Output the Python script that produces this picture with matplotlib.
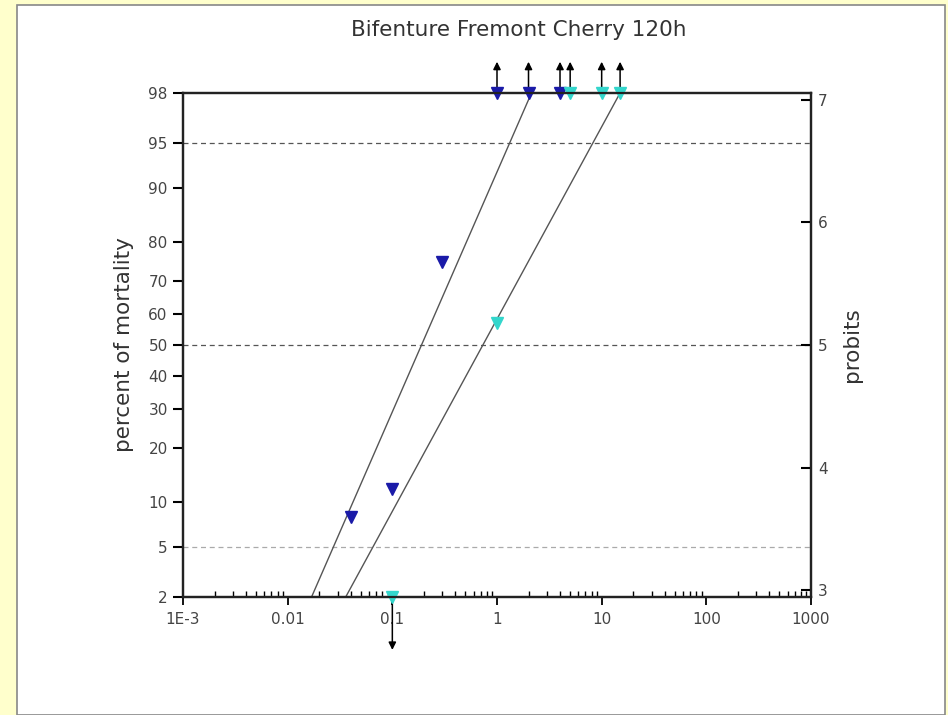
import matplotlib
matplotlib.use("Agg")
import matplotlib.pyplot as plt
from matplotlib.patches import Rectangle
import numpy as np
from statistics import NormalDist

plt.rcParams['font.family'] = ['DejaVu Sans']

# data
blue_dose = [0.04, 0.1, 0.3, 1, 2, 4]
blue_mort = [8, 12, 75, 100, 100, 100]
cyan_dose = [0.1, 1, 5, 10, 15]
cyan_mort = [0, 57, 100, 100, 100]

# fitted probit lines: LC50 and slope (probits per decade)
blue_lc50, blue_slope = 0.19, 1.955
cyan_lc50, cyan_slope = 0.733, 1.567

pct_ticks = [2, 5, 10, 20, 30, 40, 50, 60, 70, 80, 90, 95, 98]
probit_ticks = [3, 4, 5, 6, 7]
x_ticks = [1e-3, 0.01, 0.1, 1, 10, 100, 1000]
x_labels = ['1E-3', '0.01', '0.1', '1', '10', '100', '1000']
ref_lines = [95, 50, 5]

nd = NormalDist()


def probit(pct):
    return 5 + nd.inv_cdf(pct / 100.0)


y_lo, y_hi = probit(2), probit(98)

fig = plt.figure(figsize=(9.48, 7.15), dpi=100, facecolor='#FFFFCC')
fig.patches.append(Rectangle((17 / 948, 0), 928 / 948, 1 - 5 / 715,
                             transform=fig.transFigure, facecolor='white',
                             edgecolor='#888888', linewidth=1.2, zorder=-10))

ax = fig.add_axes([183 / 948, 1 - 597 / 715, 628 / 948, 504 / 715])
ax.set_facecolor('white')
ax.set_xscale('log')
ax.set_xlim(1e-3, 1000)
ax.set_ylim(y_lo, y_hi)

# reference lines
for p, c in zip(ref_lines, ['#555555', '#555555', '#aaaaaa']):
    ax.axhline(probit(p), color=c, lw=0.9, ls=(0, (4, 3)), zorder=1)

# fitted lines
for lc50, slope in [(blue_lc50, blue_slope), (cyan_lc50, cyan_slope)]:
    xs = lc50 * 10 ** ((np.array([y_lo, y_hi]) - 5) / slope)
    ax.plot(xs, [y_lo, y_hi], color='#555555', lw=1.0, zorder=2)

# points
for dose, mort, col in [(blue_dose, blue_mort, '#1a1aa8'),
                        (cyan_dose, cyan_mort, '#33d6cc')]:
    yv = [probit(min(max(m, 2), 98)) for m in mort]
    ax.plot(dose, yv, ls='none', marker='v', ms=8, color=col,
            clip_on=False, zorder=5)
    trans = ax.get_xaxis_transform()
    for d, m in zip(dose, mort):
        if m >= 100:
            ax.annotate('', xy=(d, 1.062), xytext=(d, 1.0), xycoords=trans,
                        textcoords=trans, annotation_clip=False,
                        arrowprops=dict(arrowstyle='-|>', color='black',
                                        lw=1.1, mutation_scale=11,
                                        shrinkA=0, shrinkB=0), zorder=4)
        elif m <= 0:
            ax.annotate('', xy=(d, -0.105), xytext=(d, 0.0), xycoords=trans,
                        textcoords=trans, annotation_clip=False,
                        arrowprops=dict(arrowstyle='-|>', color='black',
                                        lw=1.1, mutation_scale=11,
                                        shrinkA=0, shrinkB=0), zorder=4)

# axes styling
for s in ax.spines.values():
    s.set_linewidth(1.6)
    s.set_color('#222222')

ax.set_xticks(x_ticks)
ax.set_xticklabels(x_labels)
ax.xaxis.set_minor_locator(matplotlib.ticker.LogLocator(base=10, subs=np.arange(2, 10)))
ax.xaxis.set_minor_formatter(matplotlib.ticker.NullFormatter())
ax.tick_params(axis='x', which='major', direction='out', length=6, width=1.3,
               labelsize=11, labelcolor='#444444', pad=5)
ax.tick_params(axis='x', which='minor', direction='in', length=4, width=1.0)

ax.set_yticks([probit(p) for p in pct_ticks])
ax.set_yticklabels([str(p) for p in pct_ticks])
ax.tick_params(axis='y', which='major', direction='out', length=7, width=1.5,
               labelsize=11, labelcolor='#444444', pad=4)
ax.set_ylabel('percent of mortality', fontsize=15.5, color='#333333', labelpad=10)

ax2 = ax.twinx()
ax2.set_ylim(y_lo, y_hi)
ax2.set_yticks(probit_ticks)
ax2.set_yticklabels([str(p) for p in probit_ticks])
ax2.tick_params(axis='y', direction='in', length=7, width=1.5,
                labelsize=11, labelcolor='#444444', pad=5)
ax2.set_ylabel('probits', fontsize=15.5, color='#333333', labelpad=10)
for s in ax2.spines.values():
    s.set_linewidth(1.6)
    s.set_color('#222222')

fig.text(519 / 948, 1 - 30 / 715, 'Bifenture Fremont Cherry 120h',
         ha='center', va='center', fontsize=15.5, color='#333333')

fig.savefig('out.png', dpi=100, facecolor=fig.get_facecolor())
